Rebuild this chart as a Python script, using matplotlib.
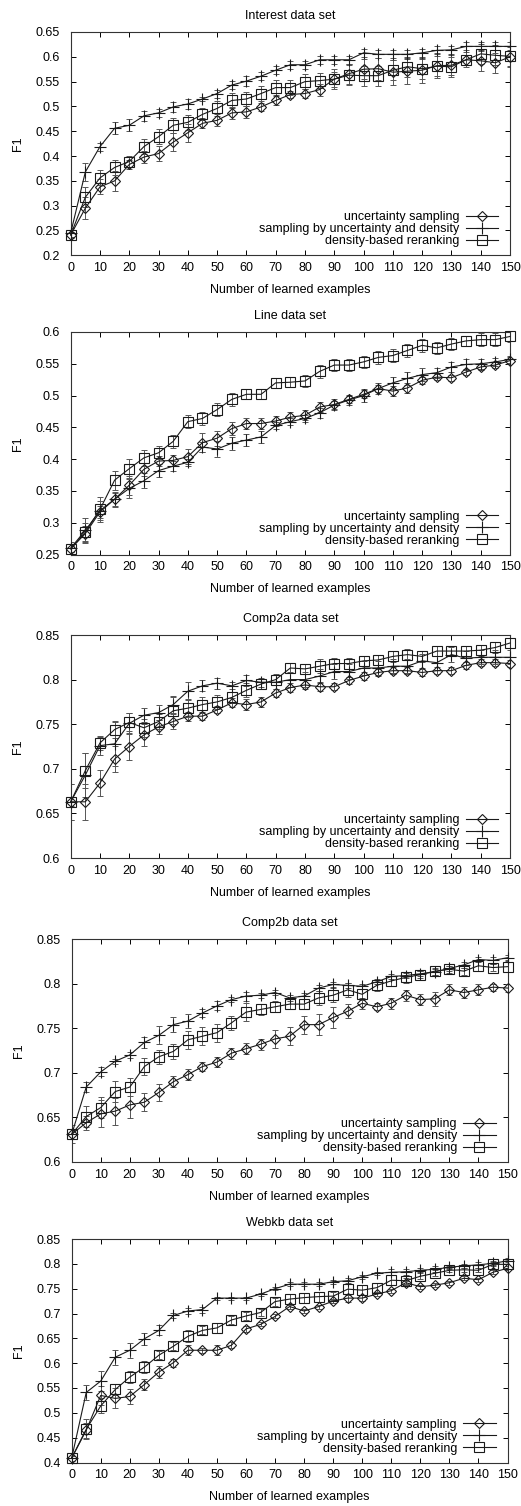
import matplotlib
matplotlib.use("Agg")
import matplotlib.pyplot as plt
from matplotlib.ticker import FuncFormatter

plt.rcParams['font.family'] = ['Liberation Sans', 'DejaVu Sans']

# dados
exemplos = list(range(0, 155, 5))
legendas = ["uncertainty sampling", "sampling by uncertainty and density", "density-based reranking"]
titulos = ["Interest data set", "Line data set", "Comp2a data set", "Comp2b data set", "Webkb data set"]

interest_unc = [0.241, 0.295, 0.338, 0.350, 0.383, 0.398, 0.405, 0.428, 0.447, 0.466, 0.472, 0.487, 0.489, 0.499, 0.512, 0.524,
                0.526, 0.534, 0.555, 0.566, 0.575, 0.576, 0.569, 0.571, 0.573, 0.582, 0.583, 0.594, 0.592, 0.588, 0.600]
interest_dens = [0.245, 0.368, 0.419, 0.456, 0.462, 0.481, 0.487, 0.499, 0.505, 0.515, 0.526, 0.543, 0.551, 0.561, 0.573, 0.584,
                 0.584, 0.594, 0.594, 0.594, 0.608, 0.605, 0.605, 0.605, 0.608, 0.613, 0.614, 0.621, 0.621, 0.621, 0.621]
interest_rerank = [0.241, 0.317, 0.356, 0.377, 0.389, 0.419, 0.439, 0.462, 0.468, 0.484, 0.496, 0.512, 0.515, 0.526, 0.538, 0.538,
                   0.550, 0.552, 0.555, 0.563, 0.562, 0.562, 0.573, 0.580, 0.576, 0.581, 0.580, 0.594, 0.606, 0.603, 0.601]
interest_unc_err = [0.005, 0.022, 0.015, 0.02, 0.01, 0.012, 0.015, 0.018, 0.018, 0.01, 0.012, 0.012, 0.012, 0.008, 0.01, 0.008,
                    0.01, 0.012, 0.02, 0.02, 0.02, 0.022, 0.025, 0.025, 0.025, 0.025, 0.02, 0.01, 0.02, 0.02, 0.02]
interest_dens_err = [0.01, 0.018, 0.008, 0.012, 0.012, 0.01, 0.008, 0.01, 0.01, 0.005, 0.008, 0.008, 0.01, 0.008, 0.008, 0.008,
                     0.008, 0.008, 0.008, 0.008, 0.008, 0.008, 0.008, 0.008, 0.008, 0.008, 0.008, 0.008, 0.008, 0.008, 0.008]
interest_rerank_err = [0.005, 0.02, 0.015, 0.015, 0.012, 0.015, 0.015, 0.015, 0.015, 0.012, 0.015, 0.015, 0.015, 0.015, 0.015, 0.015,
                       0.015, 0.015, 0.015, 0.02, 0.02, 0.02, 0.02, 0.02, 0.02, 0.02, 0.02, 0.015, 0.02, 0.02, 0.02]

line_unc = [0.259, 0.283, 0.317, 0.337, 0.359, 0.384, 0.397, 0.398, 0.404, 0.426, 0.433, 0.448, 0.456, 0.456, 0.460, 0.466,
            0.469, 0.482, 0.486, 0.494, 0.502, 0.511, 0.507, 0.512, 0.524, 0.529, 0.528, 0.537, 0.545, 0.548, 0.555]
line_dens = [0.260, 0.288, 0.319, 0.337, 0.354, 0.366, 0.382, 0.389, 0.395, 0.419, 0.416, 0.425, 0.430, 0.435, 0.453, 0.459,
             0.464, 0.473, 0.485, 0.493, 0.500, 0.511, 0.520, 0.527, 0.533, 0.536, 0.545, 0.549, 0.550, 0.553, 0.557]
line_rerank = [0.259, 0.285, 0.321, 0.367, 0.385, 0.402, 0.410, 0.428, 0.459, 0.464, 0.478, 0.494, 0.502, 0.502, 0.520, 0.521,
               0.523, 0.538, 0.548, 0.548, 0.553, 0.560, 0.563, 0.571, 0.579, 0.575, 0.581, 0.586, 0.588, 0.588, 0.593]
line_unc_err = [0.005, 0.012, 0.01, 0.01, 0.015, 0.01, 0.008, 0.008, 0.012, 0.015, 0.012, 0.01, 0.008, 0.008, 0.008, 0.008,
                0.008, 0.008, 0.008, 0.006, 0.006, 0.006, 0.008, 0.008, 0.006, 0.005, 0.005, 0.005, 0.005, 0.005, 0.005]
line_dens_err = [0.01, 0.02, 0.015, 0.012, 0.015, 0.012, 0.01, 0.008, 0.006, 0.008, 0.012, 0.01, 0.01, 0.01, 0.006, 0.006,
                 0.006, 0.008, 0.006, 0.008, 0.01, 0.008, 0.01, 0.01, 0.01, 0.008, 0.008, 0.008, 0.008, 0.006, 0.006]
line_rerank_err = [0.005, 0.015, 0.02, 0.015, 0.015, 0.012, 0.01, 0.01, 0.01, 0.01, 0.01, 0.01, 0.008, 0.008, 0.008, 0.008,
                   0.01, 0.01, 0.01, 0.01, 0.01, 0.01, 0.01, 0.01, 0.01, 0.01, 0.01, 0.008, 0.01, 0.01, 0.008]

comp2a_unc = [0.663, 0.663, 0.684, 0.711, 0.725, 0.738, 0.747, 0.753, 0.759, 0.759, 0.766, 0.774, 0.772, 0.775, 0.785, 0.791,
              0.794, 0.792, 0.792, 0.799, 0.804, 0.808, 0.810, 0.810, 0.808, 0.810, 0.810, 0.816, 0.819, 0.819, 0.818]
comp2a_dens = [0.663, 0.693, 0.726, 0.728, 0.751, 0.760, 0.763, 0.772, 0.787, 0.793, 0.796, 0.793, 0.799, 0.797, 0.797, 0.800,
               0.800, 0.804, 0.809, 0.809, 0.813, 0.813, 0.815, 0.815, 0.821, 0.819, 0.828, 0.824, 0.825, 0.825, 0.825]
comp2a_rerank = [0.663, 0.698, 0.729, 0.744, 0.752, 0.746, 0.753, 0.765, 0.768, 0.772, 0.775, 0.780, 0.788, 0.795, 0.800, 0.813,
                 0.812, 0.815, 0.818, 0.818, 0.821, 0.822, 0.826, 0.828, 0.826, 0.832, 0.832, 0.832, 0.833, 0.836, 0.841]
comp2a_unc_err = [0.02, 0.02, 0.015, 0.015, 0.015, 0.012, 0.008, 0.008, 0.005, 0.004, 0.004, 0.005, 0.006, 0.006, 0.005, 0.005,
                  0.005, 0.005, 0.004, 0.004, 0.004, 0.004, 0.004, 0.004, 0.004, 0.004, 0.004, 0.004, 0.004, 0.004, 0.004]
comp2a_dens_err = [0.02, 0.025, 0.01, 0.025, 0.012, 0.008, 0.008, 0.01, 0.01, 0.006, 0.006, 0.004, 0.006, 0.005, 0.008, 0.008,
                   0.008, 0.008, 0.008, 0.008, 0.008, 0.008, 0.008, 0.008, 0.008, 0.008, 0.008, 0.008, 0.008, 0.008, 0.008]
comp2a_rerank_err = [0.005, 0.02, 0.008, 0.01, 0.01, 0.01, 0.008, 0.015, 0.01, 0.008, 0.008, 0.006, 0.008, 0.006, 0.006, 0.006,
                     0.006, 0.008, 0.006, 0.006, 0.006, 0.006, 0.006, 0.006, 0.006, 0.006, 0.006, 0.006, 0.006, 0.006, 0.006]

comp2b_unc = [0.631, 0.644, 0.654, 0.657, 0.664, 0.667, 0.678, 0.690, 0.698, 0.707, 0.712, 0.722, 0.727, 0.732, 0.738, 0.741,
              0.754, 0.754, 0.762, 0.769, 0.778, 0.774, 0.778, 0.787, 0.782, 0.783, 0.793, 0.790, 0.793, 0.796, 0.795]
comp2b_dens = [0.631, 0.684, 0.701, 0.713, 0.720, 0.734, 0.742, 0.754, 0.758, 0.767, 0.775, 0.782, 0.786, 0.787, 0.790, 0.784,
               0.786, 0.795, 0.799, 0.798, 0.797, 0.802, 0.808, 0.809, 0.811, 0.813, 0.817, 0.821, 0.827, 0.826, 0.829]
comp2b_rerank = [0.631, 0.651, 0.661, 0.679, 0.684, 0.707, 0.718, 0.724, 0.737, 0.741, 0.745, 0.756, 0.768, 0.771, 0.774, 0.777,
                 0.777, 0.784, 0.787, 0.793, 0.788, 0.798, 0.803, 0.807, 0.810, 0.814, 0.816, 0.814, 0.820, 0.818, 0.819]
comp2b_unc_err = [0.01, 0.008, 0.015, 0.015, 0.015, 0.01, 0.01, 0.006, 0.006, 0.005, 0.006, 0.006, 0.006, 0.006, 0.01, 0.01,
                  0.01, 0.012, 0.012, 0.008, 0.006, 0.004, 0.006, 0.006, 0.006, 0.008, 0.006, 0.006, 0.006, 0.004, 0.004]
comp2b_dens_err = [0.005, 0.006, 0.005, 0.003, 0.003, 0.006, 0.01, 0.008, 0.008, 0.004, 0.005, 0.003, 0.005, 0.003, 0.003, 0.003,
                   0.003, 0.003, 0.003, 0.003, 0.003, 0.003, 0.003, 0.003, 0.003, 0.003, 0.003, 0.003, 0.003, 0.004, 0.003]
comp2b_rerank_err = [0.005, 0.012, 0.012, 0.012, 0.01, 0.01, 0.008, 0.008, 0.01, 0.01, 0.01, 0.008, 0.01, 0.006, 0.006, 0.006,
                     0.006, 0.008, 0.008, 0.008, 0.006, 0.006, 0.006, 0.006, 0.004, 0.004, 0.004, 0.004, 0.006, 0.004, 0.006]

webkb_unc = [0.409, 0.465, 0.535, 0.529, 0.533, 0.557, 0.582, 0.601, 0.626, 0.626, 0.626, 0.636, 0.669, 0.678, 0.694, 0.714,
             0.705, 0.714, 0.725, 0.731, 0.731, 0.739, 0.746, 0.762, 0.754, 0.757, 0.762, 0.771, 0.768, 0.783, 0.791]
webkb_dens = [0.409, 0.541, 0.564, 0.612, 0.626, 0.649, 0.666, 0.696, 0.705, 0.708, 0.731, 0.731, 0.731, 0.739, 0.750, 0.759,
              0.759, 0.759, 0.764, 0.766, 0.774, 0.781, 0.783, 0.784, 0.787, 0.789, 0.793, 0.796, 0.798, 0.801, 0.806]
webkb_rerank = [0.409, 0.467, 0.514, 0.547, 0.572, 0.592, 0.616, 0.634, 0.654, 0.666, 0.671, 0.687, 0.695, 0.702, 0.724, 0.729,
                0.732, 0.734, 0.735, 0.749, 0.747, 0.752, 0.767, 0.766, 0.775, 0.781, 0.787, 0.788, 0.787, 0.799, 0.799]
webkb_unc_err = [0.01, 0.015, 0.02, 0.02, 0.015, 0.012, 0.012, 0.008, 0.01, 0.005, 0.01, 0.006, 0.006, 0.004, 0.004, 0.004,
                 0.004, 0.004, 0.004, 0.008, 0.006, 0.004, 0.004, 0.004, 0.004, 0.004, 0.004, 0.004, 0.004, 0.004, 0.004]
webkb_dens_err = [0.01, 0.015, 0.02, 0.015, 0.015, 0.012, 0.01, 0.006, 0.006, 0.006, 0.003, 0.003, 0.003, 0.003, 0.003, 0.004,
                  0.004, 0.004, 0.004, 0.006, 0.004, 0.003, 0.006, 0.006, 0.004, 0.006, 0.003, 0.004, 0.006, 0.004, 0.006]
webkb_rerank_err = [0.005, 0.02, 0.015, 0.012, 0.012, 0.012, 0.008, 0.008, 0.012, 0.008, 0.01, 0.008, 0.008, 0.008, 0.008, 0.01,
                    0.01, 0.01, 0.008, 0.012, 0.01, 0.01, 0.01, 0.006, 0.006, 0.006, 0.004, 0.004, 0.004, 0.004, 0.004]

limites_y = [(0.2, 0.65), (0.25, 0.6), (0.6, 0.85), (0.6, 0.85), (0.4, 0.85)]

paineis = [
    (interest_unc, interest_dens, interest_rerank, interest_unc_err, interest_dens_err, interest_rerank_err),
    (line_unc, line_dens, line_rerank, line_unc_err, line_dens_err, line_rerank_err),
    (comp2a_unc, comp2a_dens, comp2a_rerank, comp2a_unc_err, comp2a_dens_err, comp2a_rerank_err),
    (comp2b_unc, comp2b_dens, comp2b_rerank, comp2b_unc_err, comp2b_dens_err, comp2b_rerank_err),
    (webkb_unc, webkb_dens, webkb_rerank, webkb_unc_err, webkb_dens_err, webkb_rerank_err),
]

# posicao de cada painel em pixels: esquerda, topo, direita, base
caixas = [(70.7, 32, 510, 255.3), (70.7, 332, 510, 554.5), (70.7, 635, 510, 858),
          (71.7, 939, 507.5, 1162), (71.7, 1239, 507.5, 1462.5)]

W, H = 521, 1506
fig = plt.figure(figsize=(W / 100, H / 100), dpi=100)

marcadores = ['D', '+', 's']
tamanhos = [5.5, 8, 6.5]

for i in range(5):
    esq, topo, dir, base = caixas[i]
    ax = fig.add_axes([esq / W, 1 - base / H, (dir - esq) / W, (base - topo) / H])
    dados = paineis[i]
    linhas = []
    for s in range(3):
        ax.errorbar(exemplos, dados[s], yerr=dados[s + 3], fmt='none', ecolor='#555555',
                    elinewidth=0.7, capsize=2, capthick=0.7, zorder=2)
        ln, = ax.plot(exemplos, dados[s], color='#1a1a1a', linewidth=0.8, marker=marcadores[s],
                      markersize=tamanhos[s], markerfacecolor='none', markeredgecolor='#1a1a1a',
                      markeredgewidth=0.8, label=legendas[s], zorder=3, clip_on=False)
        linhas.append(ln)

    ax.set_xlim(0, 150)
    ax.set_ylim(limites_y[i])
    ax.set_xticks(range(0, 151, 10))
    ymin, ymax = limites_y[i]
    n = int(round((ymax - ymin) / 0.05))
    ax.set_yticks([ymin + k * 0.05 for k in range(n + 1)])
    ax.yaxis.set_major_formatter(FuncFormatter(lambda v, p: f"{v:g}"))
    ax.tick_params(direction='in', top=True, right=True, length=3.5, width=0.7, labelsize=9)
    ax.tick_params(axis='x', pad=5)
    ax.tick_params(axis='y', pad=8)
    for sp in ax.spines.values():
        sp.set_linewidth(0.8)
        sp.set_color('#333333')

    ax.set_title(titulos[i], fontsize=9, pad=9.5)
    ax.set_xlabel("Number of learned examples", fontsize=9, labelpad=7)
    ax.set_ylabel("F1", fontsize=9, labelpad=8)

    ax.legend(handles=linhas, loc='lower right', bbox_to_anchor=(0.973, 0.035), frameon=False,
              markerfirst=False, fontsize=9, handlelength=2.6, handletextpad=0.5,
              labelspacing=0.0, borderpad=0, borderaxespad=0, numpoints=1)

fig.savefig("out.png", dpi=100)
